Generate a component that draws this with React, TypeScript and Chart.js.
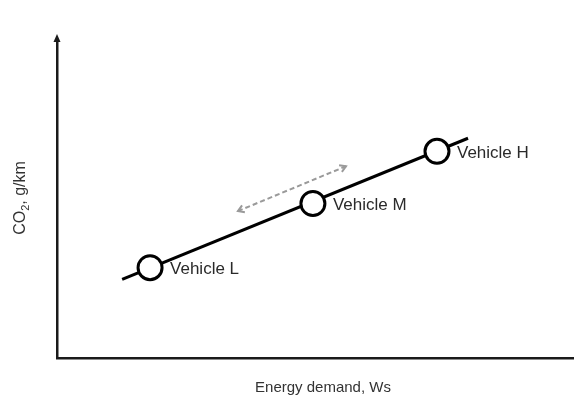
import React, { useEffect, useRef } from "react";
import { Chart, registerables } from "chart.js";

Chart.register(...registerables);

const vehicleNames = ["Vehicle L", "Vehicle M", "Vehicle H"];
const vehicleX = [18.0, 49.5, 73.5];
const vehicleY = [28.4, 48.6, 65.0];
const trendX = [12.6, 79.5];
const trendY = [24.7, 69.1];
const arrowX = [35.0, 55.9];
const arrowY = [46.2, 60.3];
const xTitle = "Energy demand, Ws";
const yTitleMain = "CO";
const yTitleSub = "2";
const yTitleRest = ", g/km";

const FONT = "'Liberation Sans', Arial, sans-serif";

const decorPlugin = {
  id: "decor",
  afterDatasetsDraw(chart: any) {
    const ctx = chart.ctx;
    const xs = chart.scales.x;
    const ys = chart.scales.y;
    const area = chart.chartArea;
    ctx.save();
    // dashed arrow heads
    const p0 = { x: xs.getPixelForValue(arrowX[0]), y: ys.getPixelForValue(arrowY[0]) };
    const p1 = { x: xs.getPixelForValue(arrowX[1]), y: ys.getPixelForValue(arrowY[1]) };
    const ang = Math.atan2(p1.y - p0.y, p1.x - p0.x);
    const head = (p: any, a: number) => {
      ctx.beginPath();
      ctx.moveTo(p.x - 7 * Math.cos(a - 0.55), p.y - 7 * Math.sin(a - 0.55));
      ctx.lineTo(p.x, p.y);
      ctx.lineTo(p.x - 7 * Math.cos(a + 0.55), p.y - 7 * Math.sin(a + 0.55));
      ctx.stroke();
    };
    ctx.strokeStyle = "#9a9a9a";
    ctx.lineWidth = 2;
    ctx.setLineDash([]);
    head(p1, ang);
    head(p0, ang + Math.PI);

    // vehicle labels
    ctx.fillStyle = "#2a2a2a";
    ctx.font = `17px ${FONT}`;
    ctx.textBaseline = "middle";
    ctx.textAlign = "left";
    vehicleNames.forEach((n, i) => {
      const px = xs.getPixelForValue(vehicleX[i]);
      const py = ys.getPixelForValue(vehicleY[i]);
      ctx.fillText(n, px + 20, py + 2);
    });

    // y axis arrow head
    ctx.fillStyle = "#1a1a1a";
    ctx.beginPath();
    ctx.moveTo(area.left, area.top - 6);
    ctx.lineTo(area.left - 3.5, area.top + 2);
    ctx.lineTo(area.left + 3.5, area.top + 2);
    ctx.closePath();
    ctx.fill();

    // axis titles
    ctx.fillStyle = "#333333";
    ctx.font = `15px ${FONT}`;
    ctx.textAlign = "center";
    ctx.textBaseline = "middle";
    ctx.fillText(xTitle, 323, 388);

    ctx.save();
    ctx.translate(21, 198);
    ctx.rotate(-Math.PI / 2);
    ctx.font = `16px ${FONT}`;
    const w1 = ctx.measureText(yTitleMain).width;
    ctx.font = `11px ${FONT}`;
    const w2 = ctx.measureText(yTitleSub).width;
    ctx.font = `16px ${FONT}`;
    const w3 = ctx.measureText(yTitleRest).width;
    let x = -(w1 + w2 + w3) / 2;
    ctx.textAlign = "left";
    ctx.fillText(yTitleMain, x, 0);
    x += w1;
    ctx.font = `11px ${FONT}`;
    ctx.fillText(yTitleSub, x, 5);
    x += w2;
    ctx.font = `16px ${FONT}`;
    ctx.fillText(yTitleRest, x, 0);
    ctx.restore();
    ctx.restore();
  },
};

export default function App() {
  const ref = useRef<HTMLCanvasElement | null>(null);
  useEffect(() => {
    document.body.style.margin = "0";
    if (!ref.current) return;
    const chart = new Chart(ref.current, {
      type: "scatter",
      data: {
        datasets: [
          {
            type: "line",
            data: trendX.map((x, i) => ({ x, y: trendY[i] })),
            borderColor: "#000000",
            borderWidth: 3,
            pointRadius: 0,
            order: 3,
          },
          {
            type: "line",
            data: arrowX.map((x, i) => ({ x, y: arrowY[i] })),
            borderColor: "#9a9a9a",
            borderWidth: 2,
            borderDash: [5, 3],
            pointRadius: 0,
            order: 2,
          },
          {
            type: "scatter",
            data: vehicleX.map((x, i) => ({ x, y: vehicleY[i] })),
            backgroundColor: "#ffffff",
            borderColor: "#000000",
            borderWidth: 3,
            pointRadius: 12,
            order: 1,
          },
        ],
      },
      options: {
        animation: false,
        responsive: false,
        layout: { autoPadding: false, padding: { left: 57, top: 40, right: 0, bottom: 41 } },
        plugins: { legend: { display: false }, tooltip: { enabled: false } },
        scales: {
          x: {
            type: "linear",
            min: 0,
            max: 100,
            ticks: { display: false },
            grid: { display: false, drawTicks: false },
            border: { display: true, color: "#1a1a1a", width: 2.5 },
          },
          y: {
            type: "linear",
            min: 0,
            max: 100,
            ticks: { display: false },
            grid: { display: false, drawTicks: false },
            border: { display: true, color: "#1a1a1a", width: 2.5 },
          },
        },
      },
      plugins: [decorPlugin],
    });
    return () => chart.destroy();
  }, []);
  return (
    <div style={{ position: "absolute", left: 0, top: 0, width: 574, height: 399, background: "#fff" }}>
      <canvas ref={ref} width={574} height={399} style={{ width: 574, height: 399 }} />
    </div>
  );
}
